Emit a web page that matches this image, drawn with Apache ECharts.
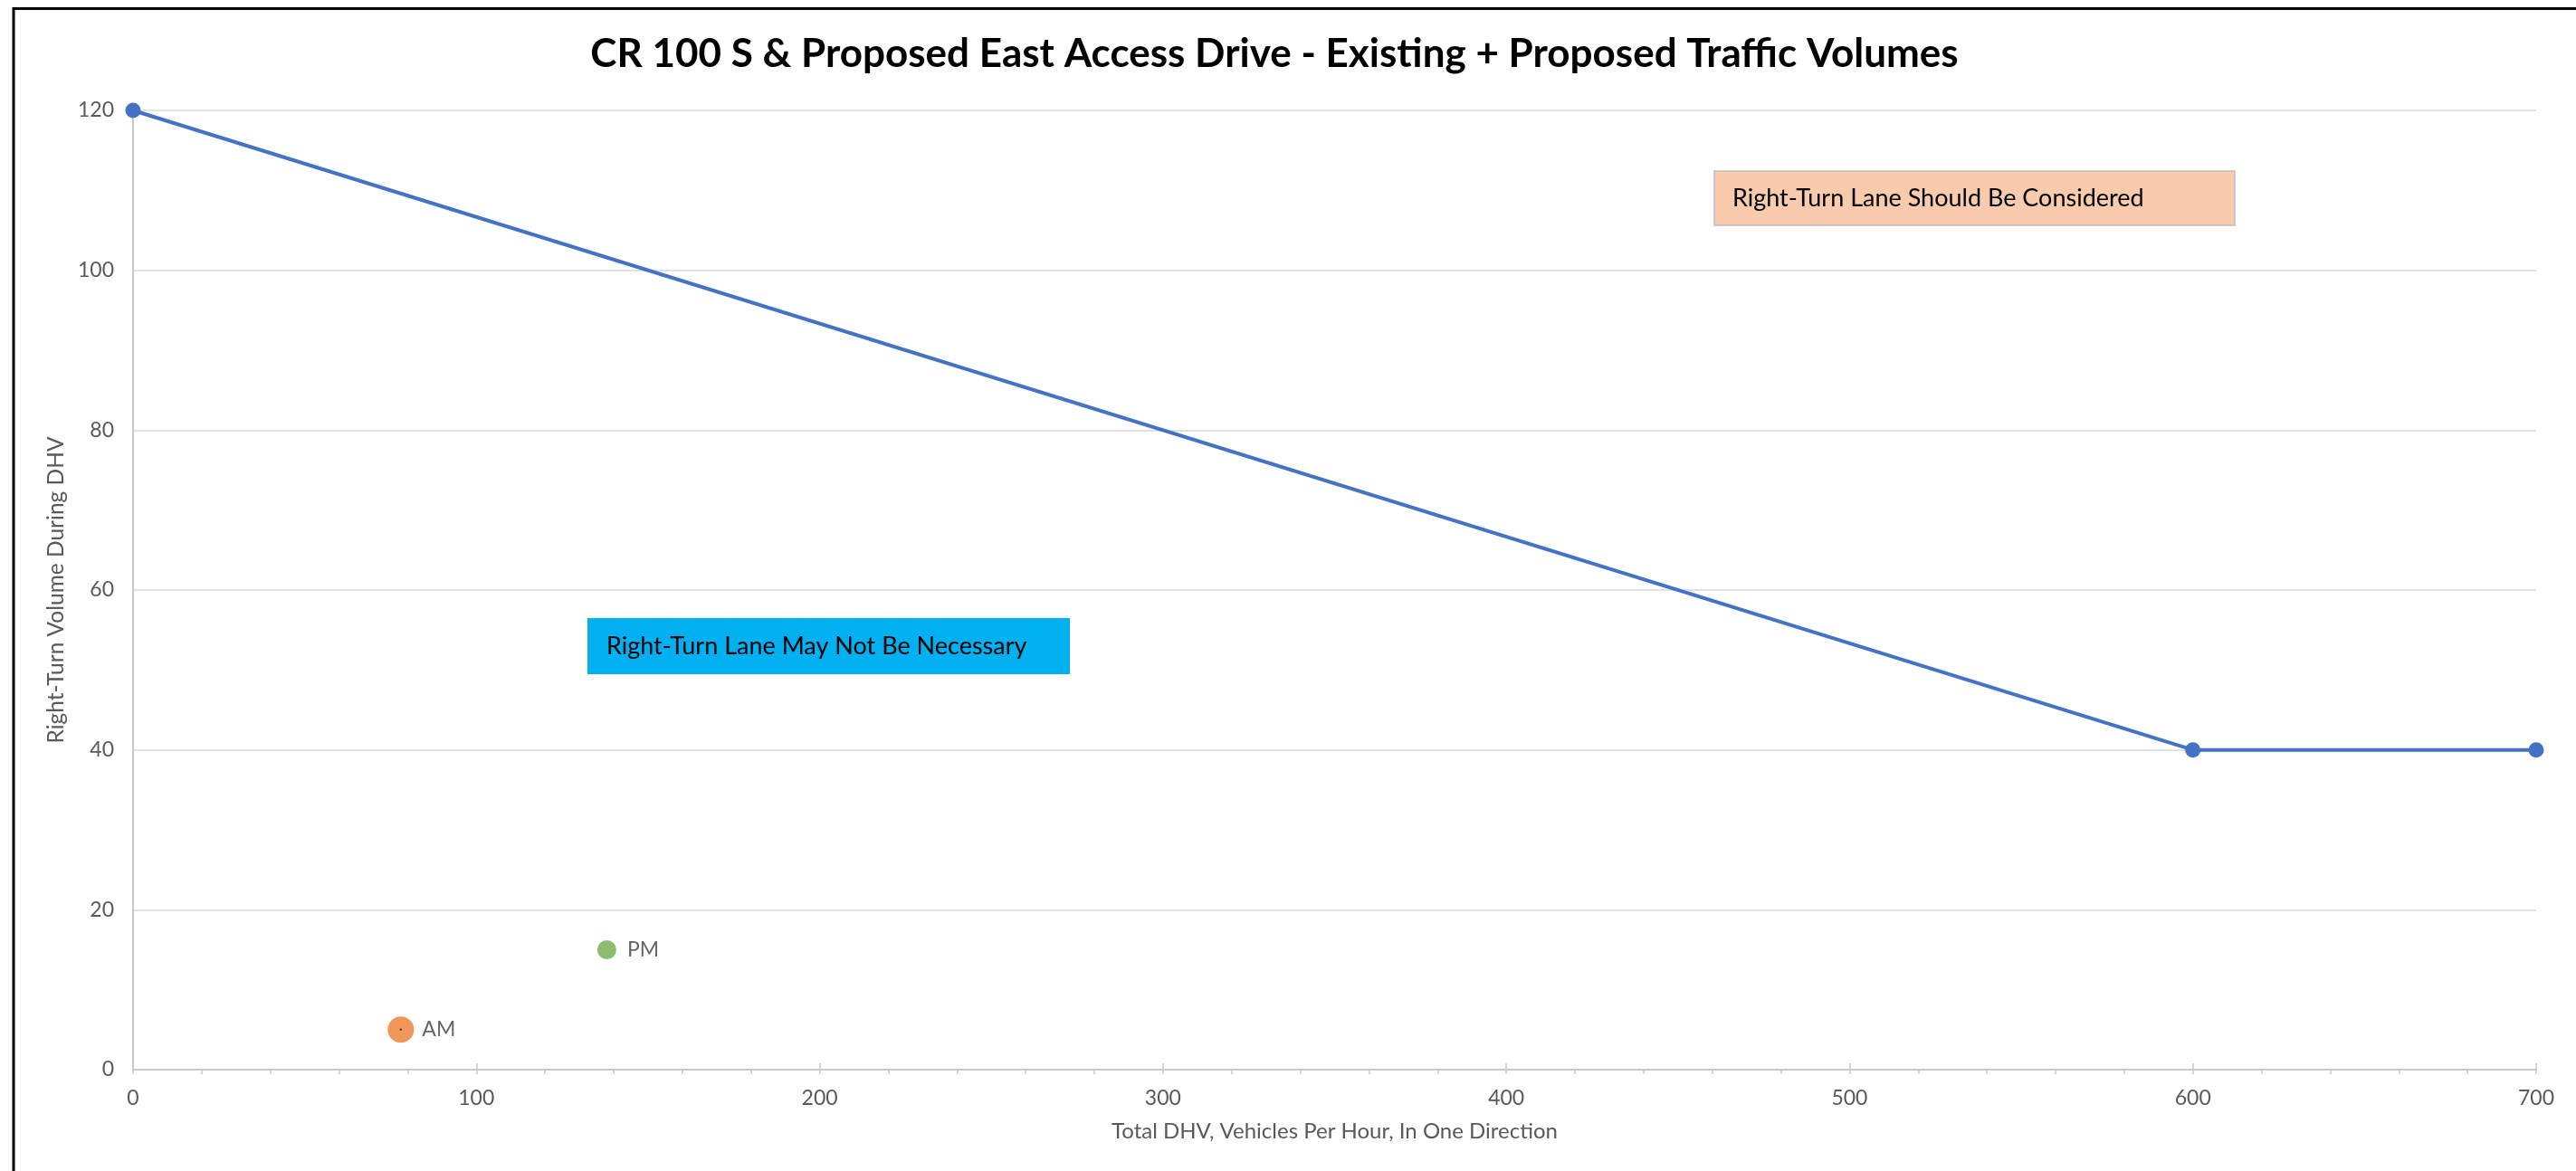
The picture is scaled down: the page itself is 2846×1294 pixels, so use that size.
<!DOCTYPE html>
<html>
<head>
<meta charset="utf-8">
<title>CR 100 S &amp; Proposed East Access Drive</title>
<script src="https://cdn.jsdelivr.net/npm/echarts@6/dist/echarts.min.js"></script>
<style>
  html, body { margin: 0; padding: 0; background: #ffffff; overflow: hidden; }
  #chart { width: 2846px; height: 1294px; }
</style>
</head>
<body>
<div id="chart"></div>
<script>
// Right-turn lane guideline: total DHV (x) vs right-turn volume (y)
const guideX = [0, 600, 700];
const guideY = [120, 40, 40];

// Peak-hour observations
const peakNames = ['AM', 'PM'];
const peakX = [78, 138];
const peakY = [5, 15];

// Axis ranges
const xRange = { min: 0, max: 700, interval: 100 };
const yRange = { min: 0, max: 120, interval: 20 };

const titleText = 'CR 100 S & Proposed East Access Drive - Existing + Proposed Traffic Volumes';
const xName = 'Total DHV, Vehicles Per Hour, In One Direction';
const yName = 'Right-Turn Volume During DHV';
const noteConsider = 'Right-Turn Lane Should Be Considered';
const noteNotNeeded = 'Right-Turn Lane May Not Be Necessary';

const FONT = 'Lato';
const AXIS_GREY = '#c8c8c8';
const LABEL_GREY = '#595959';

const chart = echarts.init(document.getElementById('chart'), null, { renderer: 'canvas' });

const guideData = guideX.map((x, i) => [x, guideY[i]]);

const option = {
  animation: false,
  backgroundColor: '#ffffff',
  textStyle: { fontFamily: FONT },
  grid: { left: 147, right: 44, top: 122, bottom: 112, containLabel: false },
  xAxis: [
    {
      type: 'value',
      min: xRange.min, max: xRange.max, interval: xRange.interval,
      name: xName,
      nameLocation: 'middle',
      nameGap: 56,
      nameTextStyle: { fontFamily: FONT, fontSize: 24, color: LABEL_GREY },
      axisLine: { show: true, onZero: false, lineStyle: { color: AXIS_GREY, width: 2 } },
      axisTick: { show: true, length: 5, lineStyle: { color: AXIS_GREY, width: 1.5 } },
      minorTick: { show: true, splitNumber: 5, length: 5, lineStyle: { color: AXIS_GREY, width: 1.5 } },
      splitLine: { show: false },
      axisLabel: { fontFamily: FONT, fontSize: 23, color: LABEL_GREY, margin: 20 }
    },
    {
      // upper half of the crossing major ticks
      type: 'value',
      position: 'bottom',
      min: xRange.min, max: xRange.max, interval: xRange.interval,
      axisLine: { show: false },
      axisTick: { show: true, inside: true, length: 7, lineStyle: { color: AXIS_GREY, width: 1.5 } },
      axisLabel: { show: false },
      splitLine: { show: false }
    }
  ],
  yAxis: {
    type: 'value',
    min: yRange.min, max: yRange.max, interval: yRange.interval,
    name: yName,
    nameLocation: 'middle',
    nameGap: 67,
    nameTextStyle: { fontFamily: FONT, fontSize: 24.5, color: LABEL_GREY },
    axisLine: { show: true, lineStyle: { color: AXIS_GREY, width: 2 } },
    axisTick: { show: false },
    splitLine: { show: true, lineStyle: { color: '#d9d9d9', width: 1.5 } },
    axisLabel: { fontFamily: FONT, fontSize: 23, color: LABEL_GREY, margin: 21 }
  },
  series: [
    {
      name: 'Guideline',
      type: 'line',
      data: guideData,
      symbol: 'circle',
      symbolSize: 17,
      lineStyle: { color: '#4472C4', width: 4 },
      itemStyle: { color: '#4472C4' },
      z: 3
    },
    {
      name: peakNames[0],
      type: 'scatter',
      data: [[peakX[0], peakY[0]]],
      symbolSize: 29,
      itemStyle: { color: '#ED7D31' },
      label: {
        show: true, position: 'right', distance: 9,
        formatter: peakNames[0],
        fontFamily: FONT, fontSize: 23, color: '#404040'
      },
      z: 4
    },
    {
      name: peakNames[0] + ' centre',
      type: 'scatter',
      data: [[peakX[0], peakY[0]]],
      symbolSize: 2.5,
      itemStyle: { color: '#3a2a20' },
      silent: true,
      z: 5
    },
    {
      name: peakNames[1],
      type: 'scatter',
      data: [[peakX[1], peakY[1]]],
      symbolSize: 21,
      itemStyle: { color: '#70AD47' },
      label: {
        show: true, position: 'right', distance: 12,
        formatter: peakNames[1],
        fontFamily: FONT, fontSize: 23, color: '#404040'
      },
      z: 4
    }
  ],
  graphic: [
    {
      // chart frame
      type: 'rect',
      shape: { x: 15, y: 9.5, width: 2900, height: 1400 },
      style: { fill: 'none', stroke: '#000000', lineWidth: 3 },
      silent: true,
      z: 100
    },
    {
      type: 'text',
      x: 1408, y: 60,
      style: {
        text: titleText,
        fontFamily: FONT, fontWeight: 'bold', fontSize: 44,
        fill: '#000000', textAlign: 'center', textVerticalAlign: 'middle'
      }
    },
    {
      type: 'group',
      children: [
        {
          type: 'rect',
          shape: { x: 1894, y: 189, width: 575, height: 60 },
          style: { fill: '#F8CBAD', stroke: '#BFBFBF', lineWidth: 1.5 }
        },
        {
          type: 'text',
          x: 1914, y: 219,
          style: {
            text: noteConsider, fontFamily: FONT, fontSize: 27,
            fill: '#000000', textAlign: 'left', textVerticalAlign: 'middle'
          }
        }
      ]
    },
    {
      type: 'group',
      children: [
        {
          type: 'rect',
          shape: { x: 649, y: 683, width: 533, height: 62 },
          style: { fill: '#00B0F0' }
        },
        {
          type: 'text',
          x: 670, y: 714,
          style: {
            text: noteNotNeeded, fontFamily: FONT, fontSize: 27,
            fill: '#000000', textAlign: 'left', textVerticalAlign: 'middle'
          }
        }
      ]
    }
  ]
};

chart.setOption(option);
</script>
</body>
</html>
